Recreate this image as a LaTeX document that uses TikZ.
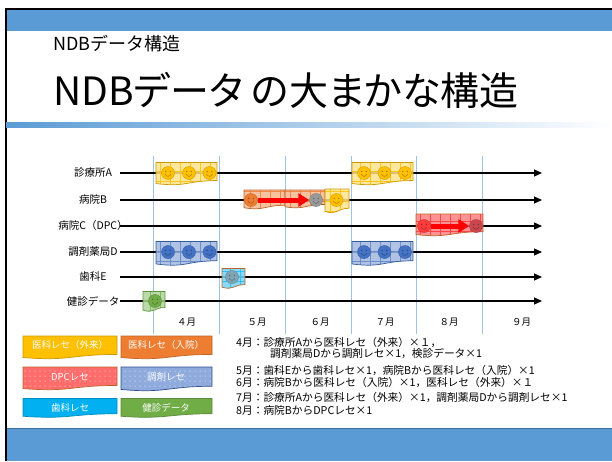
\documentclass[tikz,border=0pt]{standalone}
\usepackage{fontspec}
\setmainfont{Noto Sans CJK JP}
\newfontfamily\paltfont[RawFeature=+palt]{Noto Sans CJK JP}
\usetikzlibrary{arrows.meta,patterns.meta}

\definecolor{slideblue}{HTML}{5B9BD5}
\definecolor{monthline}{HTML}{9DC3E6}
\definecolor{gaiyellow}{HTML}{FFC000}
\definecolor{nyuorange}{HTML}{ED7D31}
\definecolor{dpcred}{HTML}{FF3B3B}
\definecolor{dpcdark}{HTML}{C8484E}
\definecolor{chozaiblue}{HTML}{4472C4}
\definecolor{shikacyan}{HTML}{00B0F0}
\definecolor{kenshingreen}{HTML}{70AD47}
\definecolor{facegrey}{HTML}{9A9A9A}
\definecolor{facesteel}{HTML}{7FA4B4}

% document shape: x0, y0, width, height
\newcommand{\docbox}[5][]{%
  \pgfmathsetmacro{\dbxr}{#2+#4}\pgfmathsetmacro{\dbxm}{#2+0.5*#4}%
  \pgfmathsetmacro{\dbyr}{#3+0.802*#5}\pgfmathsetmacro{\dbyc}{#3+1.1075*#5}%
  \pgfmathsetmacro{\dbyl}{#3+0.934*#5}%
  \path[#1] (#2,#3) -- (\dbxr,#3) -- (\dbxr,\dbyr) .. controls (\dbxm,\dbyr) and (\dbxm,\dbyc) .. (#2,\dbyl) -- cycle;}

\begin{document}
\begin{tikzpicture}[x=1pt,y=-1pt,
    rowlabel/.style={font=\fontsize{10.5}{12}\selectfont},
    monthlabel/.style={font=\fontsize{9.5}{11}\selectfont},
    timeline/.style={line width=1.1pt,-{Triangle[length=8pt,width=7pt]}},
    monthsep/.style={monthline,line width=0.8pt},
    recebox/.style n args={3}{preaction={fill=#1,fill opacity=0.85},pattern={Hatch[angle=0,distance=10pt,line width=0.4pt]},pattern color=#2,draw=#3,line width=0.7pt},
    legbox/.style 2 args={fill=#1,draw=#2,line width=0.7pt},
    dotbox/.style 2 args={preaction={fill=#1},pattern={Dots[radius=0.5pt,distance=5pt]},pattern color=white,draw=#2,line width=0.7pt},
    legtext/.style={text=white,font=\fontsize{9.5}{11}\selectfont},
    notes/.style={anchor=west,inner sep=0pt,font=\fontsize{10.7}{12}\selectfont},
    myface/.style={circle,inner sep=0pt,minimum size=13pt,fill=#1,draw=#1!85!black,line width=0.5pt,
      path picture={
        \fill[#1!65!black] ([xshift=-2.3pt,yshift=1.6pt]path picture bounding box.center) circle (0.8pt)
          ([xshift=2.3pt,yshift=1.6pt]path picture bounding box.center) circle (0.8pt);
        \draw[#1!65!black,line width=0.5pt] ([xshift=-3pt,yshift=-1.2pt]path picture bounding box.center)
          .. controls ([yshift=-4.2pt]path picture bounding box.center) .. ([xshift=3pt,yshift=-1.2pt]path picture bounding box.center);
      }},
    bigarrow/.style={red,line width=5pt,-{Triangle[length=11pt,width=13pt]}}]
  \useasboundingbox (0,0) rectangle (612,461);

  \fill[slideblue] (6,9) rectangle (612,31);
  \draw[line width=1.5pt] (6,9) -- (612,9);
  \fill[slideblue] (6,428) rectangle (612,461);
  \draw[slideblue!70!black,line width=0.6pt] (6,428) -- (612,428);
  \draw[line width=2pt] (6,8) -- (6,461);
  \shade[left color=slideblue,right color=white] (6,122.5) rectangle (612,127);

  \node[anchor=west,inner sep=0pt,font=\fontsize{18}{20}\selectfont] (subtitle) at (53,44) {NDBデータ構造};
  \node[anchor=west,inner sep=0pt,font=\paltfont\fontsize{39}{42}\selectfont] (title) at (53,90) {NDBデータ の大まかな構造};

  \foreach \x in {153.5,219.3,285,351,416.3,482.3}
    \draw[monthsep] (\x,156) -- (\x,334);
  \foreach \x/\m [count=\i] in {186.7/４,257/５,320/６,385/７,449/８,521.7/９}
    \node[monthlabel] (m\i) at (\x,322) {\m 月};

  \foreach \name/\y/\txt in {clinicA/173/診療所A,hospB/200/病院B,hospC/226/病院C（DPC）,
      pharmD/252/調剤薬局D,dentE/277/歯科E,checkup/301/健診データ}{
    \node[rowlabel] (\name) at (93,\y) {\txt};
    \coordinate (\name-s) at (120,\y);
    \coordinate (\name-e) at (542,\y);
    \draw[timeline] (\name-s) -- (\name-e);
  }

  \docbox[recebox={gaiyellow!45}{gaiyellow!90}{gaiyellow!80!black}]{156}{162.5}{61}{22.5}
  \docbox[recebox={gaiyellow!45}{gaiyellow!90}{gaiyellow!80!black}]{352}{162.5}{61}{22.5}
  \docbox[recebox={nyuorange!55}{nyuorange!90}{nyuorange!80!black}]{244}{190}{41}{19}
  \docbox[recebox={nyuorange!55}{nyuorange!90}{nyuorange!80!black}]{285}{190}{40}{18}
  \docbox[recebox={gaiyellow!45}{gaiyellow!90}{gaiyellow!80!black}]{325}{189}{24}{24}
  \docbox[recebox={dpcred!65}{dpcred!95}{nyuorange!80!black}]{416}{214}{67}{22}
  \docbox[recebox={chozaiblue!50}{chozaiblue!80}{chozaiblue!80!black}]{156}{241.5}{61}{24}
  \docbox[recebox={chozaiblue!50}{chozaiblue!80}{chozaiblue!80!black}]{352}{241.5}{61}{24}
  \docbox[recebox={shikacyan!55}{shikacyan!80}{nyuorange!80!black}]{222}{268.5}{23}{20}
  \docbox[recebox={kenshingreen!55}{kenshingreen!85}{kenshingreen!85!black}]{143}{291.5}{22}{20}

  \foreach \x [count=\i] in {168,189,209.5}{
    \node[myface=gaiyellow] (a\i) at (\x,173) {};
    \node[myface=chozaiblue] (d\i) at (\x,252) {};
  }
  \foreach \x [count=\i] in {364,384.5,405}{
    \node[myface=gaiyellow] (aa\i) at (\x,173) {};
    \node[myface=chozaiblue] (dd\i) at (\x,252) {};
  }
  \node[myface=nyuorange] (b1) at (251,200) {};
  \node[myface=facegrey] (b2) at (316,200) {};
  \node[myface=gaiyellow] (b3) at (336.5,200) {};
  \node[myface=dpcred] (c1) at (424,226) {};
  \node[myface=dpcdark] (c2) at (476,226) {};
  \node[myface=facesteel] (e1) at (232,277) {};
  \node[myface=kenshingreen] (f1) at (155,301) {};
  \draw[bigarrow] (b1) -- (b2);
  \draw[bigarrow] (c1) -- (c2);

  \docbox[legbox={gaiyellow}{gaiyellow!80!black}]{23}{336}{94}{23}
  \docbox[legbox={nyuorange}{nyuorange!80!black}]{121}{336}{91}{23}
  \docbox[dotbox={dpcred!75}{nyuorange!80!black}]{23}{367}{94}{23}
  \docbox[dotbox={chozaiblue!60}{chozaiblue!70!black}]{121}{367}{91}{24}
  \docbox[legbox={shikacyan}{shikacyan!80!black}]{23}{398.5}{94}{19}
  \docbox[legbox={kenshingreen}{kenshingreen!80!black}]{121}{398.5}{91}{19}
  \node[legtext] (leg1) at (70,345) {医科レセ（外来）};
  \node[legtext] (leg2) at (166,345) {医科レセ（入院）};
  \node[legtext] (leg3) at (70,377) {DPCレセ};
  \node[legtext] (leg4) at (166,377) {調剤レセ};
  \node[legtext] (leg5) at (70,408) {歯科レセ};
  \node[legtext] (leg6) at (166,408) {健診データ};

  \node[notes] (n1) at (236,342.7) {4月：診療所Aから医科レセ（外来）×１，};
  \node[notes] (n2) at (270,354) {調剤薬局Dから調剤レセ×1，検診データ×1};
  \node[notes] (n3) at (236,370) {5月：歯科Eから歯科レセ×1，病院Bから医科レセ（入院）×1};
  \node[notes] (n4) at (236,382.3) {6月：病院Bから医科レセ（入院）×1，医科レセ（外来）×１};
  \node[notes] (n5) at (236,397.3) {7月：診療所Aから医科レセ（外来）×1，調剤薬局Dから調剤レセ×1};
  \node[notes] (n6) at (236,410.7) {8月：病院BからDPCレセ×1};
\end{tikzpicture}
\end{document}
